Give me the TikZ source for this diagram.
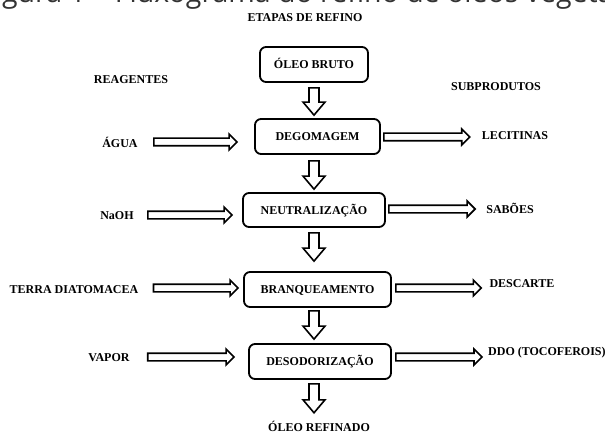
\documentclass[tikz,border=0pt]{standalone}
\usepackage{fontspec}
\setmainfont{Liberation Serif}
\newfontfamily\capfont{Open Sans}
\usetikzlibrary{calc}
\tikzset{
  lbl/.style={inner sep=0pt, font=\bfseries\fontsize{12}{14}\selectfont, text height=8pt, text depth=0pt},
  stage/.style={lbl, draw, line width=1.8pt, rounded corners=6pt, minimum height=35pt},
  blk/.style={draw, line width=1.6pt, line join=miter, fill=white},
}
\newcommand{\varrow}[2]{\draw[blk] let \p1=(#1), \p2=(#2), \p3=(bruto.center) in
  (\x3-5pt,\y1) -- (\x3-5pt,\y2+13pt) -- (\x3-11pt,\y2+13pt) -- (\x3,\y2)
  -- (\x3+11pt,\y2+13pt) -- (\x3+5pt,\y2+13pt) -- (\x3+5pt,\y1) -- cycle;}
\newcommand{\harrow}[2]{\draw[blk] let \p1=(#1), \p2=(#2) in
  (\x1,\y1+3.8pt) -- (\x2-8pt,\y1+3.8pt) -- (\x2-8pt,\y1+8pt) -- (\x2,\y1)
  -- (\x2-8pt,\y1-8pt) -- (\x2-8pt,\y1-3.8pt) -- (\x1,\y1-3.8pt) -- cycle;}
\begin{document}
\begin{tikzpicture}[x=1pt,y=-1pt]
\useasboundingbox (0,0) rectangle (605,433);
\begin{scope}
\clip (0,0) rectangle (605,433);
\node[anchor=base west, inner sep=0pt, font=\capfont\fontsize{28.5}{30}\selectfont, text=black!80] (cap) at (-20,3) {Figura 1 – Fluxograma do refino de óleos vegetais};
\end{scope}
% titles
\node[lbl] (etapas) at (305,18) {ETAPAS DE REFINO};
\node[lbl] (reag) at (131,80) {REAGENTES};
\node[lbl] (subp) at (496,87) {SUBPRODUTOS};
% stages
\node[stage, minimum width=108pt] (bruto) at (314,64.5) {ÓLEO BRUTO};
\node[stage, minimum width=125pt] (degom) at (317.5,136.5) {DEGOMAGEM};
\node[stage, minimum width=142pt, minimum height=34pt] (neutr) at (314,210) {NEUTRALIZAÇÃO};
\node[stage, minimum width=147pt] (branq) at (317.5,289.5) {BRANQUEAMENTO};
\node[stage, minimum width=142pt] (desod) at (320,361.5) {DESODORIZAÇÃO};
\node[lbl] (refin) at (319,427) {ÓLEO REFINADO};
% reagents
\node[lbl] (agua) at (120,143) {ÁGUA};
\node[lbl] (naoh) at (117,215) {NaOH};
\node[lbl] (terra) at (74,289) {TERRA DIATOMACEA};
\node[lbl] (vapor) at (109,357) {VAPOR};
% by-products
\node[lbl] (lecit) at (515,136) {LECITINAS};
\node[lbl] (saboes) at (510,209) {SABÕES};
\node[lbl] (desc) at (522,283) {DESCARTE};
\node[lbl, anchor=west] (ddo) at (488,351) {DDO (TOCOFEROIS)};
% vertical arrows
\varrow{$(bruto.south)+(0,5)$}{$(degom.north)+(0,-3)$}
\varrow{$(degom.south)+(0,6)$}{$(neutr.north)+(0,-3)$}
\varrow{$(neutr.south)+(0,5)$}{$(branq.north)+(0,-10)$}
\varrow{$(branq.south)+(0,3)$}{$(desod.north)+(0,-4)$}
\varrow{$(desod.south)+(0,4)$}{$(refin.north)+(0,-10)$}
% left arrows
\harrow{$(agua.east)+(16,-1)$}{$(degom.west)+(-17,0)$}
\harrow{$(naoh.east)+(14,0)$}{$(neutr.west)+(-10,0)$}
\harrow{$(terra.east)+(15,-1)$}{$(branq.west)+(-5,0)$}
\harrow{$(vapor.east)+(18,0)$}{$(desod.west)+(-14,0)$}
% right arrows
\harrow{$(degom.east)+(3,0.5)$}{$(lecit.west)+(-12,0)$}
\harrow{$(neutr.east)+(3,-1)$}{$(saboes.west)+(-11,0)$}
\harrow{$(branq.east)+(4,-1.5)$}{$(desc.west)+(-8,0)$}
\harrow{$(desod.east)+(4,-4.5)$}{$(ddo.west)+(-6,0)$}
\end{tikzpicture}
\end{document}
